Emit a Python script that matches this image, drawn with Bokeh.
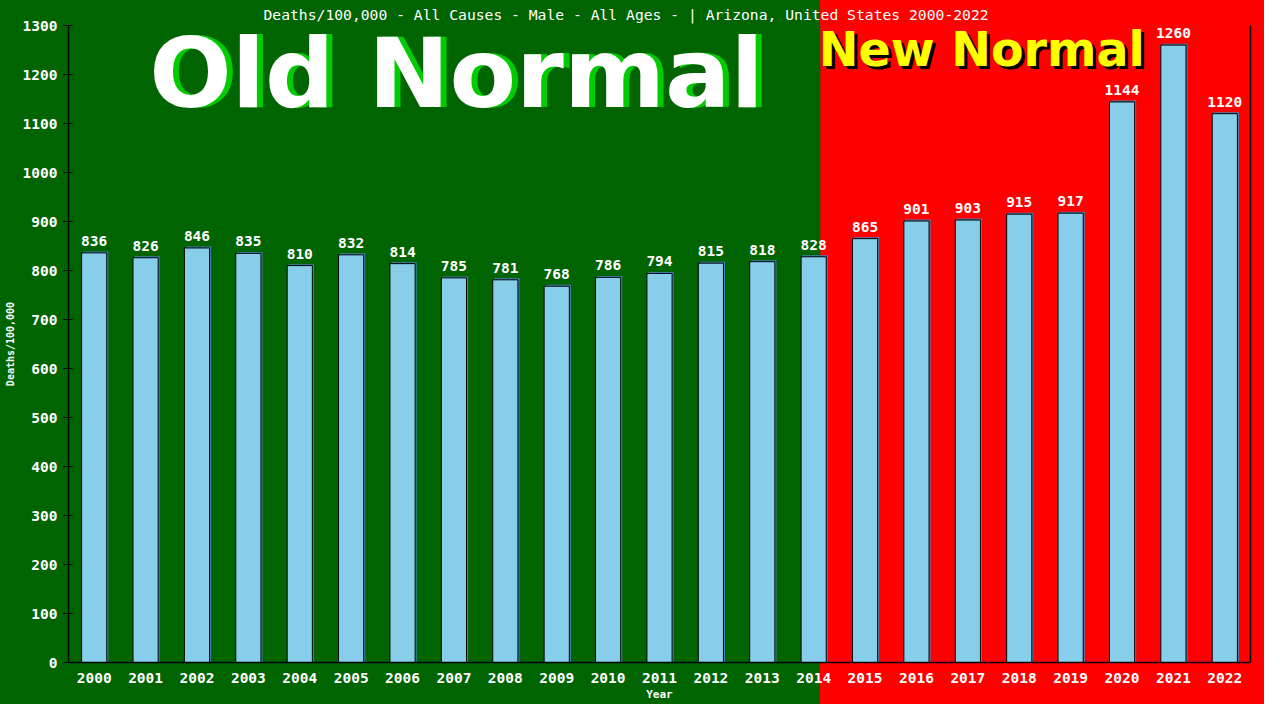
from bokeh.plotting import figure
from bokeh.models import (ColumnDataSource, Range1d, FixedTicker, LinearAxis,
                          BoxAnnotation, Label, LabelSet)
from bokeh.transform import dodge
from bokeh.core.properties import value
from bokeh.embed import file_html
from bokeh.resources import INLINE

# ---- data ----
years = list(range(2000, 2023))
deaths = [836, 826, 846, 835, 810, 832, 814, 785, 781, 768, 786, 794, 815,
          818, 828, 865, 901, 903, 915, 917, 1144, 1260, 1120]
y_ticks = list(range(0, 1301, 100))
title_text = "Deaths/100,000 - All Causes - Male - All Ages -  | Arizona, United States 2000-2022"
x_label = "Year"
y_label = "Deaths/100,000"
old_label = "Old Normal"
new_label = "New Normal"
new_normal_start = 2014.13

src = ColumnDataSource(dict(x=years, top=deaths, label=[str(v) for v in deaths]))

MONO = "DejaVu Sans Mono"
GREEN = "#006400"
RED = "#FF0000"

p = figure(width=1264, height=704, output_backend="svg", toolbar_location=None,
           x_range=Range1d(1999.5, 2022.5), y_range=Range1d(0, 1300),
           min_border_left=68, min_border_right=14, min_border_top=24,
           min_border_bottom=42)
p.border_fill_color = None
p.background_fill_color = None
p.styles = {"background": f"linear-gradient(to right, {GREEN} 0px, {GREEN} 820px, {RED} 820px, {RED} 100%)"}
p.outline_line_color = None
p.grid.visible = False

# title
p.title.text = title_text
p.title.align = "left"
p.title.offset = 195
p.title.text_color = "white"
p.title.text_font = MONO
p.title.text_font_size = "14.7px"
p.title.text_font_style = "normal"
p.title.standoff = 6

# red "new normal" region inside the frame
red = BoxAnnotation(left=new_normal_start, right=2100, bottom=-5000, top=5000,
                    fill_color=RED, fill_alpha=1.0, line_color=None,
                    level="underlay")
p.add_layout(red)
green = BoxAnnotation(left=1990, right=new_normal_start, bottom=-5000, top=5000,
                      fill_color=GREEN, fill_alpha=1.0, line_color=None,
                      level="underlay")
p.add_layout(green)

# big texts
p.add_layout(Label(x=2007.05, y=1203, text=old_label, x_offset=6,
                   text_align="center", text_baseline="middle",
                   text_font="DejaVu Sans", text_font_style="bold",
                   text_font_size="97px", text_color="#00CC00"))
p.add_layout(Label(x=2007.05, y=1203, text=old_label,
                   text_align="center", text_baseline="middle",
                   text_font="DejaVu Sans", text_font_style="bold",
                   text_font_size="97px", text_color="white"))
p.add_layout(Label(x=2014.10, y=1252, text=new_label, x_offset=3, y_offset=-3,
                   text_align="left", text_baseline="middle",
                   text_font="DejaVu Sans", text_font_style="bold",
                   text_font_size="47.5px", text_color="black"))
p.add_layout(Label(x=2014.10, y=1252, text=new_label,
                   text_align="left", text_baseline="middle",
                   text_font="DejaVu Sans", text_font_style="bold",
                   text_font_size="47.5px", text_color="#FFFF00"))

# bars with offset shadow
p.vbar(x=dodge("x", 0.03, range=p.x_range), top=dodge("top", 3, range=p.y_range),
       width=0.49, source=src, fill_color="#4682B4", line_color=None)
p.vbar(x="x", top="top", width=0.49, source=src, fill_color="#87CEEB",
       line_color="black", line_width=1)

p.add_layout(LabelSet(x="x", y="top", text="label", source=src, y_offset=7,
                      text_align="center", text_baseline="alphabetic",
                      text_color="white", text_font=value(MONO),
                      text_font_size="14.5px", text_font_style="bold"))

# axes
for ax in (p.xaxis[0], p.yaxis[0]):
    ax.axis_line_color = "black"
    ax.axis_line_width = 1.5
    ax.minor_tick_line_color = None
    ax.major_label_text_color = "white"
    ax.major_label_text_font = MONO
    ax.major_label_text_font_size = "14.5px"
    ax.major_label_text_font_style = "bold"
    ax.axis_label_text_color = "white"
    ax.axis_label_text_font = MONO
    ax.axis_label_text_font_style = "bold"

p.xaxis.ticker = FixedTicker(ticks=years)
p.xaxis.major_tick_line_color = None
p.xaxis.major_label_standoff = 4
p.xaxis.axis_label = x_label
p.xaxis.axis_label_text_font_size = "11px"
p.xaxis.axis_label_standoff = 2

p.yaxis.ticker = FixedTicker(ticks=y_ticks)
p.yaxis.major_tick_line_color = "black"
p.yaxis.major_tick_in = 4
p.yaxis.major_tick_out = 5
p.yaxis.major_label_standoff = 6
p.yaxis.axis_label = y_label
p.yaxis.axis_label_text_font_size = "10px"
p.yaxis.axis_label_standoff = 4

right = LinearAxis(ticker=FixedTicker(ticks=[]), axis_line_color="black",
                   axis_line_width=1.5, major_tick_line_color=None,
                   minor_tick_line_color=None, major_label_text_font_size="0px")
p.add_layout(right, "right")

open("out.html", "w").write(file_html(p, INLINE))
